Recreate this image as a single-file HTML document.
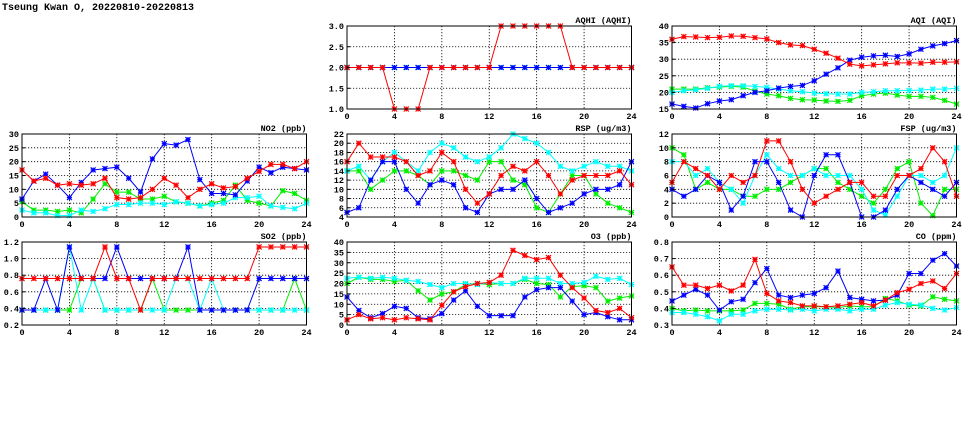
<!DOCTYPE html>
<html><head><meta charset="utf-8"><style>
body{margin:0;background:#fff;}
svg{display:block;font-family:"Liberation Mono","DejaVu Sans Mono",monospace;font-weight:bold;}
</style></head><body>
<svg id="chart" width="975" height="447" viewBox="0 0 975 447" xmlns="http://www.w3.org/2000/svg">
<text x="2" y="10" font-size="10">Tseung Kwan O, 20220810-20220813</text>
</svg>
<script>
const hours = [0,1,2,3,4,5,6,7,8,9,10,11,12,13,14,15,16,17,18,19,20,21,22,23,24];
const xTickLabels = ["0","4","8","12","16","20","24"];
const seriesColors = ["#00ee00","#00ffff","#0000ff","#ff0000"];
const seriesNames = ["green","cyan","blue","red"];

const aqhiGreen = Array(25).fill(2);
const aqhiCyan = Array(25).fill(2);
const aqhiBlue = Array(25).fill(2);
const aqhiRed = [2,2,2,2,1,1,1,2,2,2,2,2,2,3,3,3,3,3,3,2,2,2,2,2,2];
const aqhiTicks = [1.0,1.5,2.0,2.5,3.0];

const aqiRed = [36,36.8,36.7,36.5,36.6,37,36.9,36.5,36.1,35,34.3,34.1,33,31.8,30.3,28.5,28,28.3,28.6,28.9,28.9,28.8,29.1,29.1,29.2];
const aqiBlue = [16.5,15.8,15.3,16.6,17.4,17.8,19,20,20.5,21.3,21.8,22.1,23.5,25.5,27.4,29.7,30.6,31,31.2,30.8,31.6,33,34,34.7,35.6];
const aqiGreen = [21,21,21,21.4,21.6,21.8,21.6,20.4,19.5,19,18.2,17.8,17.7,17.4,17.3,17.6,19,19.5,19.8,19.2,18.8,18.8,18.5,17.6,16.5];
const aqiCyan = [20,20.5,20.8,21.2,21.8,22,22,21.8,21.5,21,20.5,20.2,19.8,19.6,19.5,19.5,20,20.2,20.5,20.5,20.6,20.7,21,21,21.2];
const aqiTicks = [15,20,25,30,35,40];

const no2Blue = [6.5,13,15.5,11.5,7,12.5,17,17.5,18,14,9,21,26.5,26,28,13.5,8.5,8.5,8,13,18,16,18,17.5,17];
const no2Red = [17,13,14,11.5,12,11.5,12,14,7,6.5,7,10,14,11.5,7,10,12,10.5,11,14,16.5,19,19,17.5,20];
const no2Green = [5.5,2.5,2.5,2,2.5,1.5,6.5,12,9,9,6.5,6.5,7.5,5.5,5,4,5,6,11.5,6,5,4,9.5,8.5,6];
const no2Cyan = [2.5,1.5,1.5,0.5,0.5,2.5,2,3,4.5,4.5,5,5,4.5,5.5,5,4,4.5,5,7,7,7.5,4,3.5,3,5];
const no2Ticks = [0,5,10,15,20,25,30];

const rspRed = [16,20,17,17,17,16,13,14,18,16,10,7,9,13,15,14,16,13,9,12,13,13,13,14,11];
const rspCyan = [14,15,12,16,18,16,14,18,20,19,17,16,17,19,22,21,20,18,15,14,15,16,15,15,14];
const rspGreen = [14,14,10,12,14,14,13,11,14,14,13,12,16,16,12,11,6,5,9,13,13,9,7,6,5];
const rspBlue = [5,6,12,16,16,10,7,11,12,11,6,5,9,10,10,12,8,5,6,7,9,10,10,11,16];
const rspTicks = [4,6,8,10,12,14,16,18,20,22];

const fspRed = [5,8,7,6,4,6,5,6,11,11,8,4,2,3,4,5,5,3,3,6,6,7,10,8,3];
const fspCyan = [8,8,6,7,5,4,2,6,9,7,6,6,7,6,6,6,4,1,0.3,3,6,6,5,6,10];
const fspGreen = [10,9,4,5,4,4,3,3,4,4,5,6,7,7,5,4,3,2,4,7,8,2,0.2,4,4];
const fspBlue = [4,3,4,6,5,1,3,8,8,5,1,0,6,9,9,5,0,0,1,4,6,5,4,3,5];
const fspTicks = [0,2,4,6,8,10,12];

const so2Blue = [.38,.38,.76,.38,1.14,.76,.76,.76,1.14,.76,.76,.76,.76,.76,1.14,.38,.38,.38,.38,.38,.76,.76,.76,.76,.76];
const so2Red = [.76,.76,.76,.76,.76,.76,.76,1.14,.76,.76,.38,.76,.76,.76,.76,.76,.76,.76,.76,.76,1.14,1.14,1.14,1.14,1.14];
const so2Green = [.38,.38,.38,.38,.38,.76,.76,.38,.38,.38,.38,.76,.38,.38,.38,.38,.38,.38,.38,.38,.38,.38,.38,.76,.38];
const so2Cyan = [.38,.38,.38,.38,1.14,.38,.76,.38,.38,.38,.38,.38,.38,.76,.76,.38,.76,.38,.38,.38,.38,.38,.38,.38,.38];
const so2Ticks = [0.2,0.4,0.6,0.8,1.0,1.2];

const o3Red = [2.5,5,3,3.5,2.5,3.5,3,2.5,9.5,16,18.5,20,20.5,24,36,33.5,31.5,32.5,24,18,13,7,6,8,3.5];
const o3Cyan = [22.5,23,22.5,23,22.5,21.5,21,19.5,18,20,20,19.5,20.5,20,20,22.5,22.5,22.5,20,20,20.5,23.5,22,22.5,19.5];
const o3Green = [20,23,22,22,21,21.5,16.5,12,15,16,19.5,20,19.5,20,20,22,20,19.5,13.5,18.5,19,18,11.5,13,14];
const o3Blue = [13.5,7,3.5,5.5,9,8,3.5,3,5.5,12,16.5,9,4.5,4.5,4.5,13.5,17,18,18,11.5,5,6,4,2.5,2.5];
const o3Ticks = [0,5,10,15,20,25,30,35,40];

const coRed = [.65,.54,.54,.52,.54,.505,.54,.695,.49,.445,.435,.415,.415,.41,.415,.425,.435,.415,.45,.495,.515,.55,.565,.52,.61];
const coBlue = [.445,.48,.515,.48,.39,.44,.455,.555,.64,.48,.465,.48,.49,.525,.625,.465,.455,.445,.45,.48,.61,.61,.69,.73,.655];
const coGreen = [.4,.385,.39,.385,.385,.385,.39,.43,.43,.425,.395,.41,.41,.41,.405,.415,.41,.41,.46,.445,.42,.415,.47,.455,.445];
const coCyan = [.375,.375,.365,.35,.325,.365,.365,.385,.395,.395,.39,.395,.385,.395,.395,.385,.395,.395,.42,.435,.425,.42,.4,.39,.405];
const coTicks = [0.3,0.4,0.5,0.6,0.7,0.8];

const NS = "http://www.w3.org/2000/svg";
const svg = document.getElementById('chart');
const colsX = [22,347,672], rowsY = [26,134,242], PW = 284.5, PH = 83;

function mk(tag, attrs, parent){
  const e = document.createElementNS(NS, tag);
  for (const k in attrs) e.setAttribute(k, attrs[k]);
  parent.appendChild(e); return e;
}

function panel(key, title, col, row, ticks, dec, series){
  const L = colsX[col], T = rowsY[row];
  const g = mk('g', {}, svg);
  
  
  const ymin = ticks[0], ymax = ticks[ticks.length-1];
  const xs = h => L + h / 24 * PW;
  const ys = v => T + PH - (v - ymin) / (ymax - ymin) * PH;
  mk('rect', {x:L, y:T, width:PW, height:PH, fill:'#fff', stroke:'none'}, g);
  for (let i = 1; i < ticks.length - 1; i++) {
    const y = ys(ticks[i]);
    mk('line', {x1:L, x2:L+PW, y1:y, y2:y, stroke:'#000', 'stroke-width':0.8, 'stroke-dasharray':'1.2,1.8'}, g);
  }
  for (let i = 1; i < xTickLabels.length - 1; i++) {
    const x = xs(+xTickLabels[i]);
    mk('line', {x1:x, x2:x, y1:T, y2:T+PH, stroke:'#000', 'stroke-width':0.8, 'stroke-dasharray':'1.2,1.8'}, g);
  }
  series.forEach((vals, si) => {
    const col = seriesColors[si];
    const sg = mk('g', {}, g);
    
    
    let d = '';
    vals.forEach((v, i) => { d += (i ? 'L' : 'M') + xs(hours[i]).toFixed(2) + ',' + ys(v).toFixed(2); });
    const ln = mk('path', {d:d, fill:'none', stroke:col, 'stroke-width':1}, sg);
    
    
    vals.forEach((v, i) => {
      const x = xs(hours[i]), y = ys(v), r = 2.5;
      const m = mk('path', {d:`M${x-r},${y}H${x+r}M${x},${y-r}V${y+r}M${x-r},${y-r}L${x+r},${y+r}M${x-r},${y+r}L${x+r},${y-r}`, fill:'none', stroke:col, 'stroke-width':1.2}, sg);
      
      
    });
  });
  mk('rect', {x:L, y:T, width:PW, height:PH, fill:'none', stroke:'#000', 'stroke-width':1}, g);
  ticks.forEach(t => {
    const tx = mk('text', {x:L-3, y:ys(t)+3, 'font-size':8.5, 'text-anchor':'end'}, g);
    tx.textContent = t.toFixed(dec);
    
    
    mk('line', {x1:L, x2:L+3, y1:ys(t), y2:ys(t), stroke:'#000'}, g);
  });
  xTickLabels.forEach(lb => {
    const tx = mk('text', {x:xs(+lb), y:T+PH+10, 'font-size':8.5, 'text-anchor':'middle'}, g);
    tx.textContent = lb;
    
    
  });
  const tt = mk('text', {x:L+PW, y:T-3, 'font-size':8.5, 'text-anchor':'end'}, g);
  tt.textContent = title;
  
  
}

panel('aqhi','AQHI (AQHI)',1,0,aqhiTicks,1,[aqhiGreen,aqhiCyan,aqhiBlue,aqhiRed]);
panel('aqi','AQI (AQI)',2,0,aqiTicks,0,[aqiGreen,aqiCyan,aqiBlue,aqiRed]);
panel('no2','NO2 (ppb)',0,1,no2Ticks,0,[no2Green,no2Cyan,no2Blue,no2Red]);
panel('rsp','RSP (ug/m3)',1,1,rspTicks,0,[rspGreen,rspCyan,rspBlue,rspRed]);
panel('fsp','FSP (ug/m3)',2,1,fspTicks,0,[fspGreen,fspCyan,fspBlue,fspRed]);
panel('so2','SO2 (ppb)',0,2,so2Ticks,1,[so2Green,so2Cyan,so2Blue,so2Red]);
panel('o3','O3 (ppb)',1,2,o3Ticks,0,[o3Green,o3Cyan,o3Blue,o3Red]);
panel('co','CO (ppm)',2,2,coTicks,1,[coGreen,coCyan,coBlue,coRed]);
</script>
</body></html>
